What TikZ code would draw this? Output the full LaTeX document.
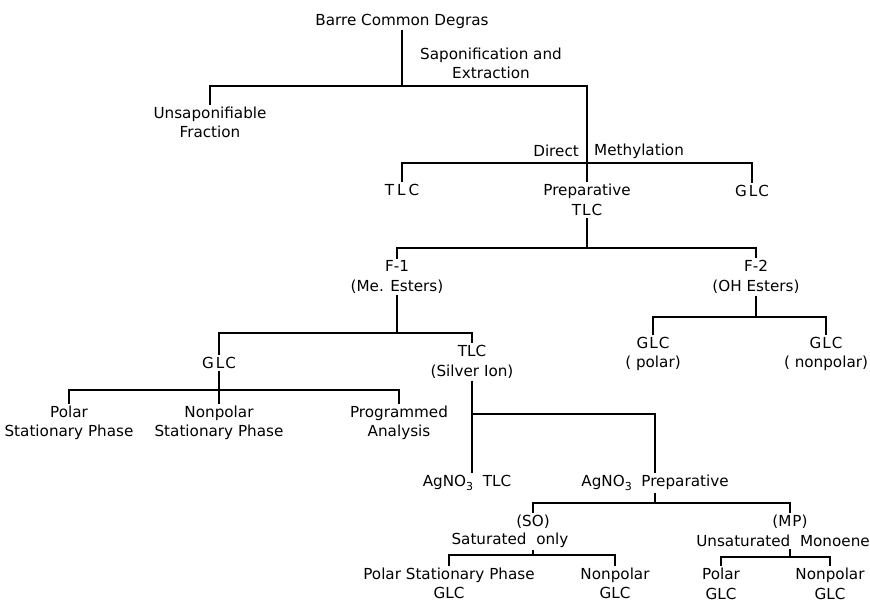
\documentclass[tikz,border=0pt]{standalone}
\usepackage{fontspec}
\setmainfont{DejaVu Sans}
\newcommand{\sbt}{\raisebox{-0.45ex}{\fontsize{11}{11}\selectfont 3}}
\begin{document}
\begin{tikzpicture}[x=1pt,y=-1pt,
  lbl/.style={inner sep=2pt,align=center,font=\fontsize{15.2}{19.5}\selectfont},
  conn/.style={line width=1.2pt}]
\useasboundingbox (0,0) rectangle (870,602);
% nodes
\node[lbl] (barre) at (402,21) {Barre Common Degras};
\node[lbl] (sapon) at (491,63.5) {Saponification and\\Extraction};
\node[lbl] (unsap) at (210,122.5) {Unsaponifiable\\Fraction};
\node[lbl,anchor=east] (direct) at (581,151) {Direct};
\node[lbl,anchor=west] (methyl) at (592,151) {Methylation};
\node[lbl] (tlc1) at (402,190) {T\kern3pt L\kern3pt C};
\node[lbl] (prep) at (587,200) {Preparative\\T\kern1pt L\kern1pt C};
\node[lbl] (glc1) at (752,191) {G\kern2pt L\kern1pt C};
\node[lbl] (f1) at (397,277) {F-1\\(Me. Esters)};
\node[lbl] (f2) at (756,277) {F-2\\(OH Esters)};
\node[lbl] (glc2) at (219,363) {G\kern2pt L\kern1pt C};
\node[lbl] (tlcsi) at (472,362) {TLC\\(Silver Ion)};
\node[lbl] (glcp) at (653,354) {G\kern1pt L\kern1pt C\\( polar)};
\node[lbl] (glcnp) at (826,354) {G\kern1pt L\kern1pt C\\( nonpolar)};
\node[lbl] (polar) at (69,423) {Polar\\Stationary Phase};
\node[lbl] (nonpolar) at (219,423) {Nonpolar\\Stationary Phase};
\node[lbl] (prog) at (399,423) {Programmed\\Analysis};
\node[lbl] (agtlc) at (467,483) {AgNO\sbt\ \ TLC};
\node[lbl] (agprep) at (655,483) {AgNO\sbt\ \ Preparative};
\node[lbl] (so1) at (533,522) {(SO)};
\node[lbl] (so2) at (510,540) {Saturated\ \ only};
\node[lbl] (mp1) at (790,522) {(M\kern1pt P)};
\node[lbl] (mp2) at (783,541) {Unsaturated\ \ Monoene};
\node[lbl] (psp) at (449,583.5) {Polar Stationary Phase\\GLC};
\node[lbl] (npg) at (615,583.5) {Nonpolar\\GLC};
\node[lbl] (pg) at (721,584) {Polar\\GLC};
\node[lbl] (npg2) at (830,584) {Nonpolar\\GLC};
% junctions
\coordinate (b1) at (402,86);
\coordinate (b2) at (587,163);
\coordinate (b3) at (587,248);
\coordinate (b4) at (397,333);
\coordinate (b5) at (756,317);
\coordinate (b6) at (219,390);
\coordinate (b7) at (472,414);
\coordinate (b8) at (655,503);
\coordinate (b9) at (533,555);
\coordinate (b10) at (790,557);
% connectors
\draw[conn] (barre.south) -- (b1);
\draw[conn] (unsap.north) |- (b1) -| (prep.north);
\draw[conn] (tlc1.north) |- (b2) -| (glc1.north);
\draw[conn] (prep.south) -- (b3);
\draw[conn] (f1.north) |- (b3) -| (f2.north);
\draw[conn] (f1.south) -- (b4);
\draw[conn] (glc2.north) |- (b4) -| (tlcsi.north);
\draw[conn] (f2.south) -- (b5);
\draw[conn] (glcp.north) |- (b5) -| (glcnp.north);
\draw[conn] (glc2.south) -- (nonpolar.north);
\draw[conn] (polar.north) |- (b6) -| (prog.north);
\draw[conn] (tlcsi.south) -- (tlcsi.south |- agtlc.north);
\draw[conn] (b7) -| (agprep.north);
\draw[conn] (agprep.south) -- (b8);
\draw[conn] (so1.north) |- (b8) -| (mp1.north);
\draw[conn] (so2.south -| so1.center) -- (b9);
\draw[conn] (psp.north) |- (b9) -| (npg.north);
\draw[conn] (mp2.south -| mp1.center) -- (b10);
\draw[conn] (pg.north) |- (b10) -| (npg2.north);
\end{tikzpicture}
\end{document}
